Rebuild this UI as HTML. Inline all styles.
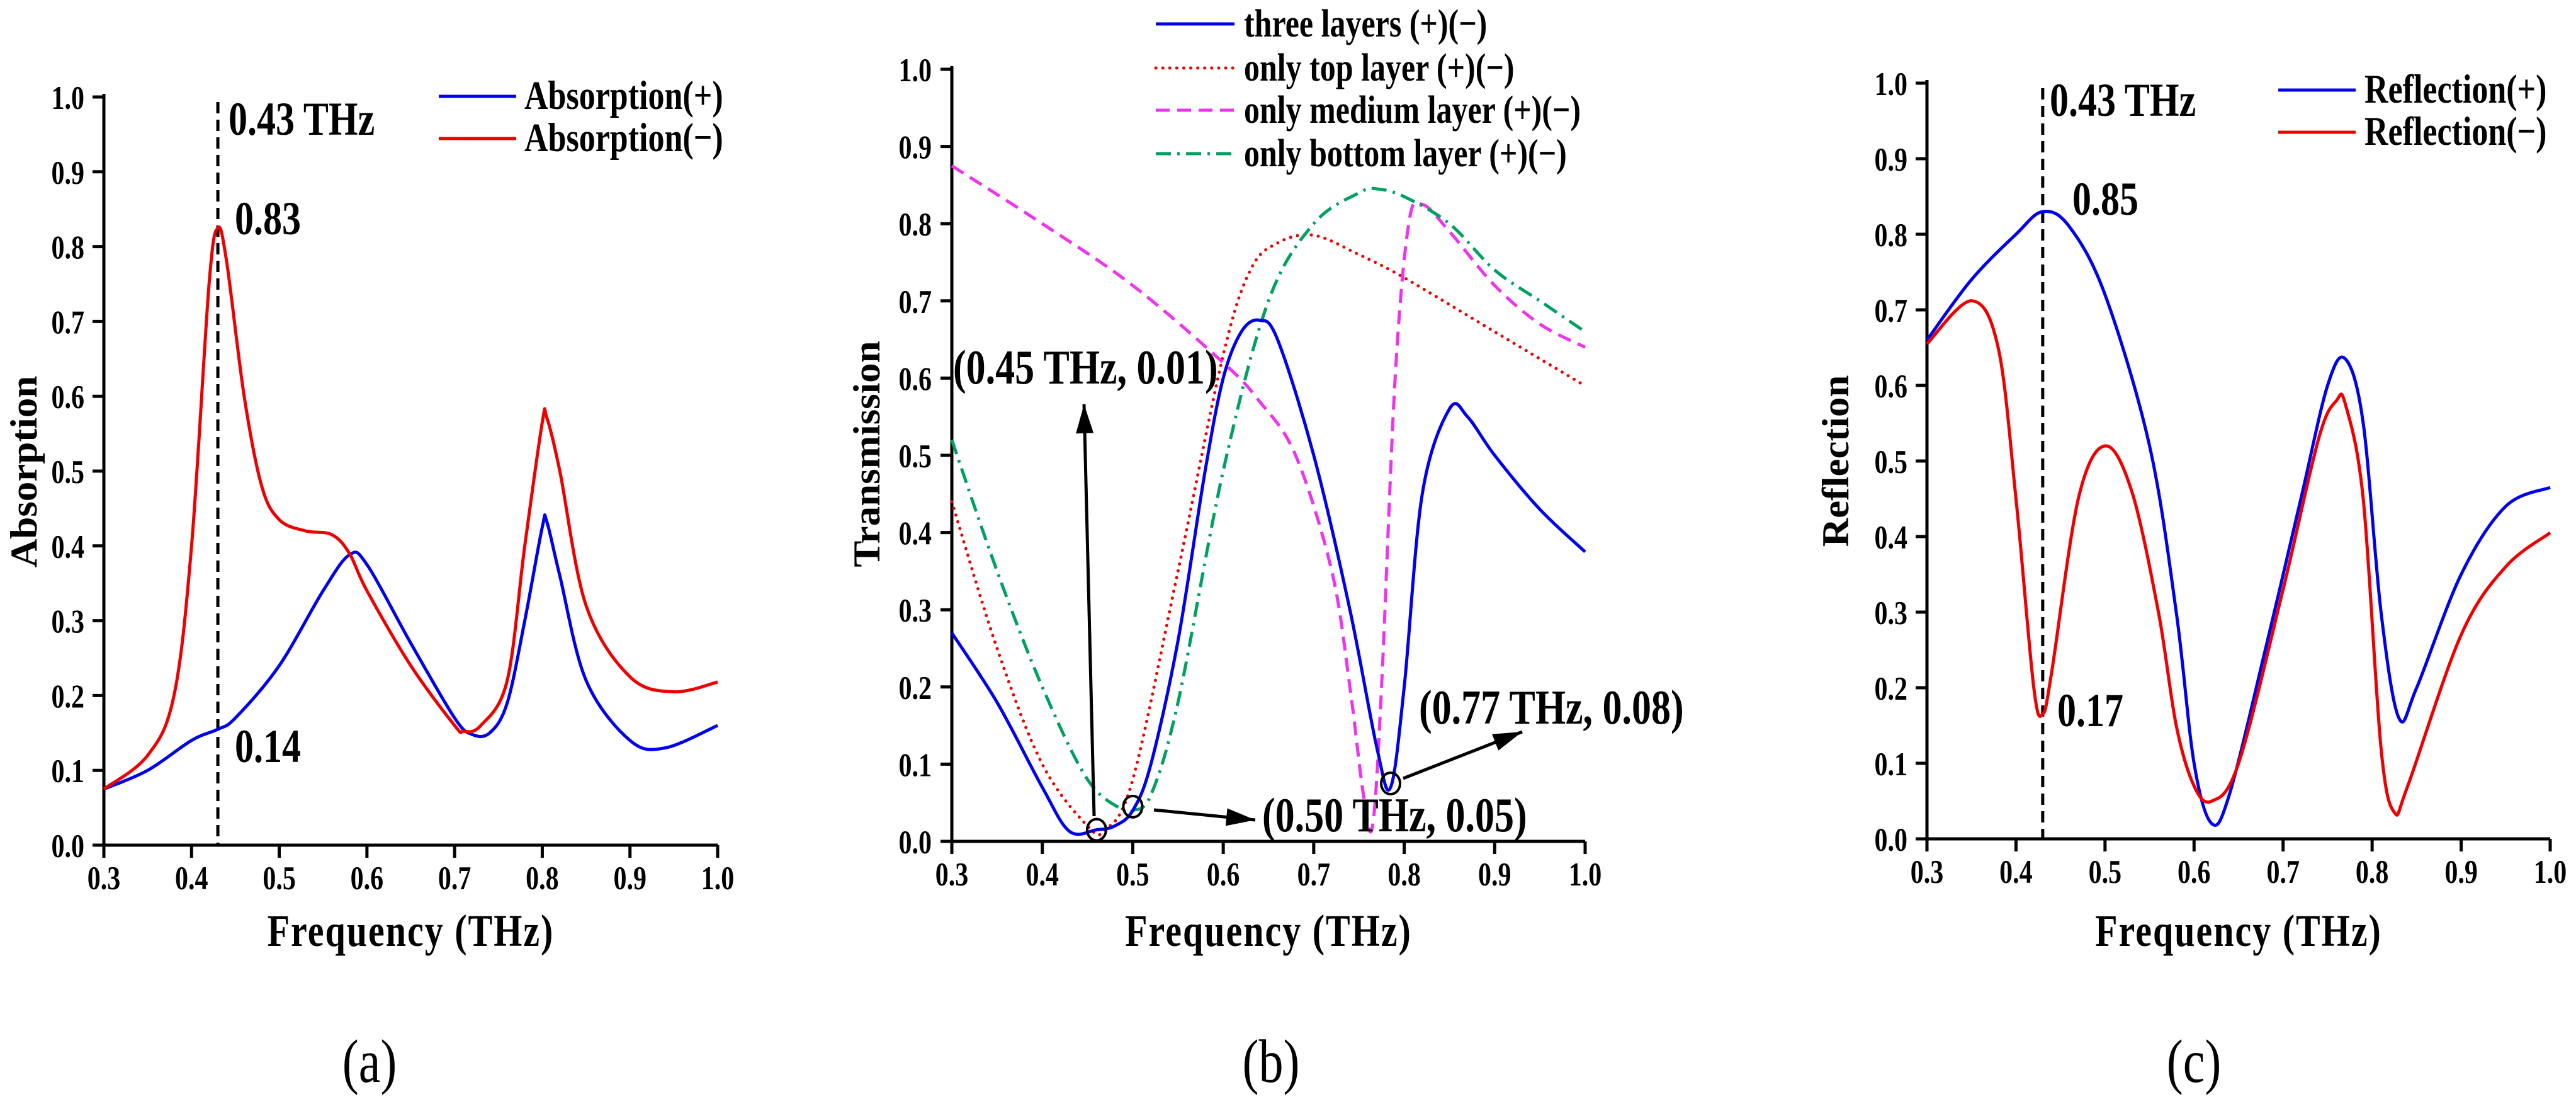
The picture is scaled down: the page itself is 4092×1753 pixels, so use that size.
<!DOCTYPE html>
<html><head><meta charset="utf-8"><style>
html,body{margin:0;padding:0;background:#fff}
svg{display:block}
text{font-family:"Liberation Serif",serif;font-weight:bold;fill:#000}
</style></head><body>
<svg id="s" width="4092" height="1753" viewBox="0 0 4092 1753" xmlns="http://www.w3.org/2000/svg"></svg>
<script>
// ---- data ----
const aPlusX=[0.3,0.35,0.4,0.43,0.45,0.5,0.55,0.58,0.6,0.65,0.7,0.72,0.74,0.76,0.78,0.8,0.805,0.82,0.85,0.9,0.94,1.0];
const aPlusY=[0.075,0.1,0.14,0.155,0.17,0.24,0.34,0.388,0.375,0.27,0.17,0.148,0.15,0.19,0.3,0.425,0.433,0.36,0.22,0.14,0.13,0.16];
const aMinusX=[0.3,0.35,0.38,0.4,0.42,0.43,0.44,0.46,0.48,0.5,0.53,0.56,0.58,0.6,0.65,0.7,0.71,0.73,0.76,0.78,0.8,0.805,0.82,0.85,0.9,0.95,1.0];
const aMinusY=[0.075,0.12,0.2,0.4,0.75,0.825,0.78,0.6,0.48,0.435,0.42,0.415,0.39,0.34,0.24,0.16,0.152,0.16,0.22,0.4,0.565,0.572,0.5,0.32,0.225,0.205,0.218];
const bThreeX=[0.3,0.35,0.4,0.43,0.46,0.48,0.5,0.52,0.55,0.58,0.6,0.62,0.64,0.66,0.7,0.74,0.77,0.785,0.8,0.82,0.85,0.87,0.9,0.95,1.0];
const bThreeY=[0.27,0.18,0.07,0.013,0.015,0.02,0.04,0.1,0.26,0.48,0.6,0.66,0.675,0.65,0.5,0.3,0.12,0.07,0.2,0.45,0.56,0.55,0.5,0.43,0.375];
const bTopX=[0.3,0.35,0.4,0.45,0.47,0.5,0.55,0.6,0.63,0.66,0.7,0.75,0.8,0.9,1.0];
const bTopY=[0.44,0.25,0.1,0.02,0.015,0.08,0.35,0.63,0.74,0.775,0.785,0.76,0.73,0.66,0.59];
const bMedX=[0.3,0.4,0.5,0.6,0.64,0.68,0.72,0.74,0.755,0.765,0.775,0.79,0.805,0.82,0.85,0.9,0.95,1.0];
const bMedY=[0.875,0.8,0.72,0.62,0.57,0.5,0.35,0.2,0.06,0.02,0.2,0.6,0.8,0.825,0.79,0.72,0.67,0.64];
const bBotX=[0.3,0.35,0.4,0.45,0.49,0.5,0.52,0.55,0.6,0.65,0.7,0.75,0.77,0.8,0.85,0.9,0.95,1.0];
const bBotY=[0.52,0.35,0.2,0.08,0.04,0.04,0.06,0.18,0.48,0.7,0.8,0.84,0.845,0.835,0.8,0.74,0.7,0.66];
const cPlusX=[0.3,0.35,0.4,0.43,0.46,0.5,0.55,0.58,0.6,0.62,0.64,0.68,0.72,0.75,0.77,0.79,0.81,0.83,0.85,0.9,0.95,1.0];
const cPlusY=[0.66,0.74,0.8,0.83,0.81,0.72,0.52,0.3,0.1,0.02,0.06,0.25,0.45,0.6,0.635,0.55,0.3,0.16,0.2,0.35,0.44,0.465];
const cMinusX=[0.3,0.35,0.38,0.4,0.42,0.43,0.44,0.47,0.5,0.53,0.56,0.58,0.6,0.62,0.65,0.7,0.74,0.76,0.77,0.79,0.81,0.825,0.84,0.9,0.95,1.0];
const cMinusY=[0.655,0.712,0.65,0.45,0.2,0.165,0.22,0.45,0.52,0.46,0.3,0.15,0.07,0.05,0.1,0.33,0.53,0.58,0.575,0.45,0.12,0.035,0.07,0.27,0.36,0.405];
const xTicks=["0.3","0.4","0.5","0.6","0.7","0.8","0.9","1.0"];
const yTicks=["0.0","0.1","0.2","0.3","0.4","0.5","0.6","0.7","0.8","0.9","1.0"];

const S=document.getElementById('s');
const NS='http://www.w3.org/2000/svg';
const VS=1.25; // vertical stretch of text glyphs
function mk(tag,attrs,parent,txt){const e=document.createElementNS(NS,tag);for(const k in attrs)e.setAttribute(k,attrs[k]);if(txt!==undefined)e.textContent=txt;(parent||S).appendChild(e);return e;}
function smooth(pts){let d='M'+pts[0][0].toFixed(1)+','+pts[0][1].toFixed(1);
 for(let i=0;i<pts.length-1;i++){const p0=pts[Math.max(0,i-1)],p1=pts[i],p2=pts[i+1],p3=pts[Math.min(pts.length-1,i+2)];
  const c1=[p1[0]+(p2[0]-p0[0])/6,p1[1]+(p2[1]-p0[1])/6],c2=[p2[0]-(p3[0]-p1[0])/6,p2[1]-(p3[1]-p1[1])/6];
  d+='C'+c1[0].toFixed(1)+','+c1[1].toFixed(1)+' '+c2[0].toFixed(1)+','+c2[1].toFixed(1)+' '+p2[0].toFixed(1)+','+p2[1].toFixed(1);}
 return d;}
function txt(g,x,y,t,fs,anchor,rot,extra){const a={x:0,y:0,'font-size':fs,'text-anchor':anchor||'start',transform:rot?`translate(${x},${y}) scale(1,1.05) rotate(-90)`:`translate(${x},${y}) scale(1,${VS})`};
 if(extra)for(const k in extra)a[k]=extra[k];return mk('text',a,g,t);}
function panel(name,x0,x1,y0,y1,ytitle,ytx,tickx,ty){
 const g=mk('g',{});
 const sx=v=>x0+(v-0.3)/0.7*(x1-x0), sy=v=>y0-(v)*(y0-y1);
 const ax=mk('path',{d:`M${x0},${y1-5}V${y0}H${x1}`,fill:'none',stroke:'#000','stroke-width':5},g);
 
 xTicks.forEach(t=>{const X=sx(parseFloat(t));mk('line',{x1:X,x2:X,y1:y0,y2:y0+20,stroke:'#000','stroke-width':5},g);
  const tl=txt(g,X,y0+70,t,42,'middle');});
 yTicks.forEach(t=>{const Y=sy(parseFloat(t));mk('line',{x1:x0-18,x2:x0,y1:Y,y2:Y,stroke:'#000','stroke-width':5},g);
  const tl=txt(g,tickx,Y+19,t,42,'end');});
 const xt=txt(g,(x0+x1)/2,1502,'Frequency (THz)',58,'middle',false,{'letter-spacing':2});
 
 const yt=txt(g,ytx,ty,ytitle,60,'middle',true);
 
 return {g,sx,sy};}
function series(p,X,Y,color,w,dash,name){const pts=X.map((x,i)=>[p.sx(x),p.sy(Y[i])]);
 const e=mk('path',{d:smooth(pts),fill:'none',stroke:color,'stroke-width':w,'stroke-dasharray':dash||'none','stroke-linecap':dash&&dash.startsWith('0')?'round':'butt'},p.g);
 }
function label(p,x,y,t,fs,name,anchor){const e=txt(p.g,x,y,t,fs,anchor);return e;}
function legend(p,lx,tx,y,color,dash,t,fs){const l=mk('line',{x1:lx[0],x2:lx[1],y1:y,y2:y,stroke:color,'stroke-width':5,'stroke-dasharray':dash||'none','stroke-linecap':dash&&dash.startsWith('0')?'round':'butt'},p.g);
 
 label(p,tx,y+20,t,fs,'legend-entry');}

// Panel a
const A=panel('panel-a',165,1140,1342,154,'Absorption',58,134,749);
const ad=mk('line',{x1:A.sx(0.43),x2:A.sx(0.43),y1:162,y2:1342,stroke:'#000','stroke-width':5,'stroke-dasharray':'18,10'},A.g);

series(A,aPlusX,aPlusY,'#0000ee',5,null,'absorption-plus-line');
series(A,aMinusX,aMinusY,'#ee0000',5,null,'absorption-minus-line');
label(A,363,214,'0.43 THz',60,'annotation');label(A,373,372,'0.83',60,'annotation');label(A,373,1210,'0.14',60,'annotation');
legend(A,[697,820],833,153,'#0000ee',null,'Absorption(+)',52);
legend(A,[697,820],833,220,'#ee0000',null,'Absorption(−)',52);
const la=label(A,587,1718,'(a)',78,'subfigure-label','middle');la.style.fontWeight='normal';

// Panel b
const B=panel('panel-b',1512,2518,1336,110,'Transmission',1397,1480,721);
series(B,bTopX,bTopY,'#ee0000',5,'0.1,11','top-layer-line');
series(B,bMedX,bMedY,'#ee33ee',5,'22,12','medium-layer-line');
series(B,bBotX,bBotY,'#00a060',5,'24,10,4,10','bottom-layer-line');
series(B,bThreeX,bThreeY,'#0000ee',5,null,'three-layers-line');
[[0.46,0.015],[0.5,0.045],[0.785,0.075]].forEach(c=>{const e=mk('ellipse',{cx:B.sx(c[0]),cy:B.sy(c[1]),rx:15,ry:17,fill:'none',stroke:'#000','stroke-width':4},B.g);});
function arrow(x1,y1,x2,y2){const e=mk('line',{x1,y1,x2,y2,stroke:'#000','stroke-width':5},B.g);
 const ang=Math.atan2(y2-y1,x2-x1),L=46,W=14;const hx=x2,hy=y2;
 const bx=hx-L*Math.cos(ang),by=hy-L*Math.sin(ang);
 const h=mk('polygon',{points:`${hx},${hy} ${bx+W*Math.sin(ang)},${by-W*Math.cos(ang)} ${bx-W*Math.sin(ang)},${by+W*Math.cos(ang)}`,fill:'#000'},B.g);}
arrow(1738,1296,1722,642);
arrow(1833,1286,1994,1302);
arrow(2229,1236,2418,1162);
label(B,1514,609,'(0.45 THz, 0.01)',62,'annotation');
label(B,2005,1320,'(0.50 THz, 0.05)',62,'annotation');
label(B,2254,1149,'(0.77 THz, 0.08)',62,'annotation');
legend(B,[1836,1961],1976,38,'#0000ee',null,'three layers (+)(−)',50);
legend(B,[1836,1961],1976,108,'#ee0000','0.1,11','only top layer (+)(−)',50);
legend(B,[1836,1961],1976,175,'#ee33ee','22,12','only medium layer (+)(−)',50);
legend(B,[1836,1961],1976,244,'#00a060','24,10,4,10','only bottom layer (+)(−)',50);
const lb=label(B,2019,1718,'(b)',78,'subfigure-label','middle');lb.style.fontWeight='normal';

// Panel c
const C=panel('panel-c',3061,4051,1332,132,'Reflection',2936,3030,732);
const cd=mk('line',{x1:C.sx(0.43),x2:C.sx(0.43),y1:140,y2:1332,stroke:'#000','stroke-width':5,'stroke-dasharray':'18,10'},C.g);

series(C,cPlusX,cPlusY,'#0000ee',5,null,'reflection-plus-line');
series(C,cMinusX,cMinusY,'#ee0000',5,null,'reflection-minus-line');
label(C,3256,184,'0.43 THz',60,'annotation');label(C,3292,341,'0.85',60,'annotation');label(C,3268,1153,'0.17',60,'annotation');
legend(C,[3619,3742],3756,143,'#0000ee',null,'Reflection(+)',52);
legend(C,[3619,3742],3756,210,'#ee0000',null,'Reflection(−)',52);
const lc=label(C,3485,1718,'(c)',78,'subfigure-label','middle');lc.style.fontWeight='normal';
</script>
</body></html>
